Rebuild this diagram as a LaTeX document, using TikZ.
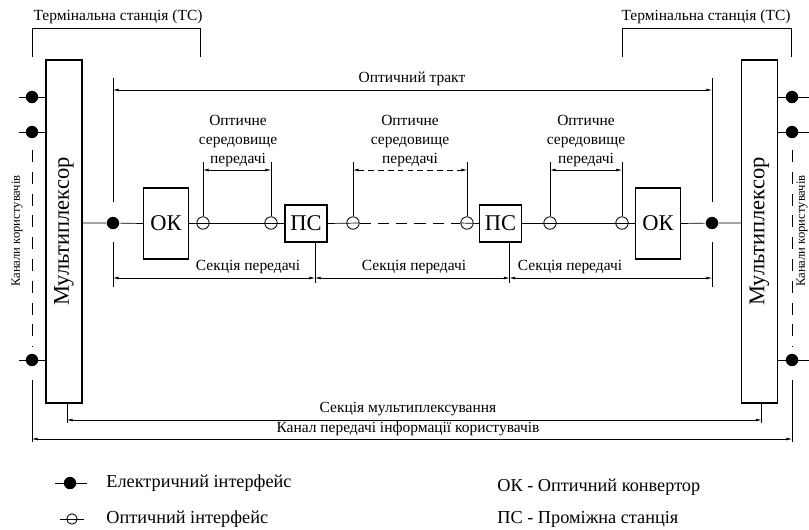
\documentclass[tikz,border=0pt]{standalone}
\usepackage{fontspec}
\usepackage{graphicx}
\setmainfont{Liberation Serif}
\usetikzlibrary{arrows.meta}

\tikzset{
  muxbox/.style   = {draw, line width=0.8pt, inner sep=0pt, minimum width=0.9cm, minimum height=8.575cm},
  okbox/.style    = {draw, line width=0.8pt, inner sep=0pt, minimum width=1.125cm, minimum height=1.775cm, font=\fontsize{16}{18}\selectfont},
  psbox/.style    = {draw, line width=0.8pt, inner sep=0pt, minimum width=1.05cm, minimum height=0.925cm, font=\fontsize{16}{18}\selectfont},
  elec/.style     = {circle, fill=black, inner sep=0pt, minimum size=0.31cm},
  opt/.style      = {circle, draw, line width=0.6pt, inner sep=0pt, minimum size=0.31cm},
  dimline/.style  = {{Latex[length=4pt,width=2pt]}-{Latex[length=4pt,width=2pt]}, line width=0.4pt},
  lbl/.style      = {inner sep=0pt, font=\fontsize{11}{13.2}\selectfont},
  chlbl/.style    = {inner sep=0pt, rotate=90, font=\fontsize{9}{11}\selectfont},
  lgtext/.style   = {inner sep=0pt, anchor=west, font=\fontsize{13}{15}\selectfont},
  chdash/.style   = {dash pattern=on 8.5pt off 7pt, line width=0.4pt}
}

\begin{document}
\begin{tikzpicture}[x=0.025cm, y=-0.025cm, line width=0.5pt]
\useasboundingbox (0,0) rectangle (809,529);

% levels of the dimension lines
\coordinate (yTrakt) at (0,90);
\coordinate (tTop)   at (0,78);
\coordinate (tUp)    at (0,202);
\coordinate (tDown)  at (0,242);
\coordinate (tBot)   at (0,287);
\coordinate (yMed)   at (0,170);
\coordinate (tMed)   at (0,162);
\coordinate (ySek)   at (0,278);
\coordinate (tSek)   at (0,283);
\coordinate (yMux)   at (0,420);
\coordinate (tMux)   at (0,423);
\coordinate (yKan)   at (0,439);
\coordinate (tKanA)  at (0,380);
\coordinate (tKanB)  at (0,442);

% terminal stations
\node[lbl] (tsl) at (118,17) {Термінальна станція (ТС)};
\node[lbl] (tsr) at (706,17) {Термінальна станція (ТС)};
\draw[line width=0.4pt] (32,57) |- (200,28) -- (200,57);
\draw[line width=0.4pt] (622,57) |- (791,28) -- (791,57);

% multiplexers
\node[muxbox] (mux1) at (64,231.5)  {\fontsize{16}{18}\selectfont\rotatebox{90}{Мультиплексор}};
\node[muxbox] (mux2) at (759.5,231.5) {\fontsize{16}{18}\selectfont\rotatebox{90}{Мультиплексор}};

% user channels
\node[elec] (c1) at (32,97)  {};
\node[elec] (c2) at (32,132) {};
\node[elec] (c3) at (32,360) {};
\node[elec] (c4) at (792,97)  {};
\node[elec] (c5) at (792,132) {};
\node[elec] (c6) at (792,360) {};
\foreach \c in {c1,c2,c3} {
  \draw ([xshift=-0.325cm]\c.center) -- (\c -| mux1.west);
}
\foreach \c in {c4,c5,c6} {
  \draw (\c -| mux2.east) -- ([xshift=0.45cm]\c.center);
}
\draw[chdash] (32,150) -- (32,347);
\draw[chdash] (792,150) -- (792,347);
\node[chlbl] (chl) at (17,231)  {Канали користувачів};
\node[chlbl] (chr) at (802,231) {Канали користувачів};

% optical path
\node[elec]  (e1)  at (113,223) {};
\node[okbox] (ok1) at (166,223.5) {ОК};
\node[opt]   (o1)  at (203,223) {};
\node[opt]   (o2)  at (271,223) {};
\node[psbox] (ps1) at (306,223.5) {ПС};
\node[opt]   (o3)  at (353,223) {};
\node[opt]   (o4)  at (467,223) {};
\node[psbox] (ps2) at (500.5,223.5) {ПС};
\node[opt]   (o5)  at (550,223) {};
\node[opt]   (o6)  at (622,223) {};
\node[okbox] (ok2) at (658,223.5) {ОК};
\node[elec]  (e2)  at (712,223) {};

\draw (mux1.east |- e1) -- (e1) -- (ok1.west);
\draw (ok1.east) -- (ps1.west);
\draw (ps1.east) -- (o3.east);
\draw[dash pattern=on 8pt off 5pt] (o3.east) -- (o4.west);
\draw (o4.west) -- (ps2.west);
\draw (ps2.east) -- (ok2.west);
\draw (ok2.east) -- (e2) -- (mux2.west |- e2);

% optical path dimension
\draw[line width=0.4pt] (e1 |- tTop) -- (e1 |- tUp) (e1 |- tDown) -- (e1 |- tBot);
\draw[line width=0.4pt] (e2 |- tTop) -- (e2 |- tUp) (e2 |- tDown) -- (e2 |- tBot);
\draw[dimline] (e1 |- yTrakt) -- (e2 |- yTrakt);
\node[lbl] (trakt) at (412,79) {Оптичний тракт};

% optical media
\foreach \o in {o1,o2,o3,o4,o5,o6} {
  \draw[line width=0.4pt] (\o.north) -- (\o |- tMed);
}
\draw[dimline] (o1 |- yMed) -- (o2 |- yMed);
\draw[dimline, dash pattern=on 4pt off 3pt] (o3 |- yMed) -- (o4 |- yMed);
\draw[dimline] (o5 |- yMed) -- (o6 |- yMed);
\node[lbl, align=center] (med1) at (238,141) {Оптичне\\середовище\\передачі};
\node[lbl, align=center] (med2) at (410,141) {Оптичне\\середовище\\передачі};
\node[lbl, align=center] (med3) at (586,141) {Оптичне\\середовище\\передачі};

% transmission sections
\coordinate (k1) at ([xshift=0.225cm]ps1.south);
\coordinate (k2) at ([xshift=0.225cm]ps2.south);
\draw[line width=0.4pt] (k1) -- (k1 |- tSek);
\draw[line width=0.4pt] (k2) -- (k2 |- tSek);
\draw[dimline] (e1 |- ySek) -- (k1 |- ySek);
\draw[dimline] (k1 |- ySek) -- (k2 |- ySek);
\draw[dimline] (k2 |- ySek) -- (e2 |- ySek);
\node[lbl] (sek1) at (248,267) {Секція передачі};
\node[lbl] (sek2) at (414,267) {Секція передачі};
\node[lbl] (sek3) at (570,267) {Секція передачі};

% multiplexing section and user channel
\coordinate (m1) at ([xshift=0.075cm]mux1.south);
\coordinate (m2) at ([xshift=0.05cm]mux2.south);
\draw[line width=0.4pt] (m1) -- (m1 |- tMux);
\draw[line width=0.4pt] (m2) -- (m2 |- tMux);
\draw[dimline] (m1 |- yMux) -- (m2 |- yMux);
\node[lbl] (muxsek) at (408,409) {Секція мультиплексування};
\draw[line width=0.4pt] (c3 |- tKanA) -- (c3 |- tKanB);
\draw[line width=0.4pt] (c6 |- tKanA) -- (c6 |- tKanB);
\draw[dimline] (c3 |- yKan) -- (c6 |- yKan);
\node[lbl] (kanal) at (408,429) {Канал передачі інформації користувачів};

% legend
\node[elec] (le) at (70,483) {};
\draw ([xshift=-0.375cm]le.center) -- ([xshift=0.425cm]le.center);
\node[lgtext] (let) at (106,483) {Електричний інтерфейс};
\node[opt, minimum size=0.26cm] (lo) at (72,519) {};
\draw ([xshift=-0.3cm]lo.center) -- ([xshift=0.3cm]lo.center);
\node[lgtext] (lot) at (106,519) {Оптичний інтерфейс};
\node[lgtext] (lok) at (497,487) {ОК - Оптичний конвертор};
\node[lgtext] (lps) at (497,519) {ПС - Проміжна станція};
\end{tikzpicture}
\end{document}
